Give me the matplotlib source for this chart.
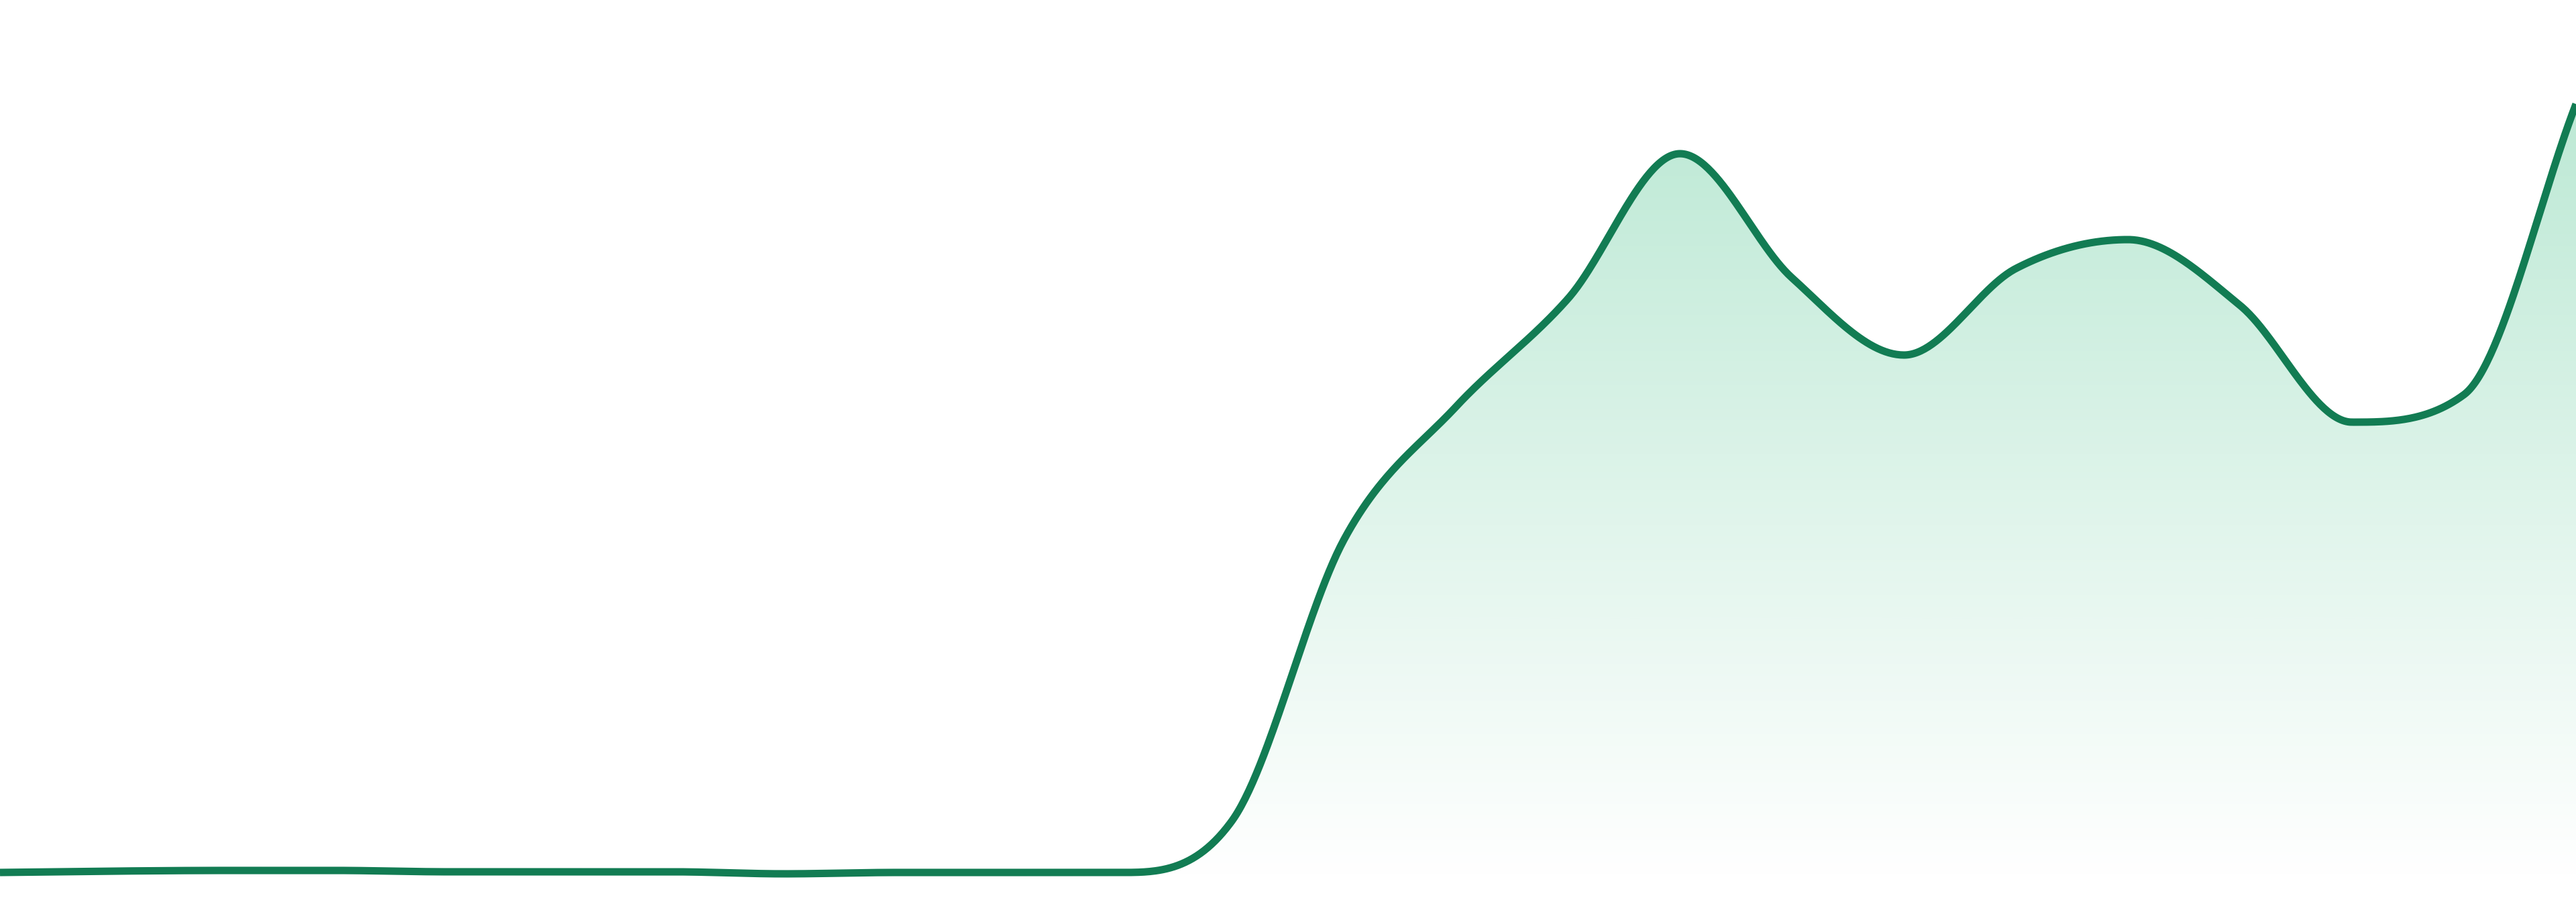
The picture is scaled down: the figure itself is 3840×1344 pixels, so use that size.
import numpy as np
import matplotlib
matplotlib.use("Agg")
import matplotlib.pyplot as plt
from matplotlib.colors import LinearSegmentedColormap
from matplotlib.patches import Polygon

# values (arbitrary units, 0 = baseline)
values = [5, 7, 8, 8, 6, 6, 6, 3, 5, 5, 5,
          82, 501, 699, 860, 1076, 891, 776, 905, 948, 850, 676, 717, 1150]
x = np.arange(len(values))

line_color = "#127c53"
fill_top = "#bde9d5"


def monotone_cubic(xs, ys, n=60):
    # Fritsch-Carlson monotone cubic, endpoint tangents = secants
    xs = np.asarray(xs, float)
    ys = np.asarray(ys, float)
    h = np.diff(xs)
    d = np.diff(ys) / h
    m = np.empty(len(xs))
    m[0], m[-1] = d[0], d[-1]
    for i in range(1, len(xs) - 1):
        m[i] = 0.0 if d[i - 1] * d[i] <= 0 else (d[i - 1] + d[i]) / 2
    for i in range(len(d)):
        if d[i] == 0:
            m[i] = m[i + 1] = 0.0
            continue
        a, b = m[i] / d[i], m[i + 1] / d[i]
        r = a * a + b * b
        if r > 9:
            tau = 3 / np.sqrt(r)
            m[i] = tau * a * d[i]
            m[i + 1] = tau * b * d[i]
    out_x, out_y = [], []
    for i in range(len(xs) - 1):
        u = np.linspace(0, 1, n, endpoint=(i == len(xs) - 2))
        h00 = 2 * u**3 - 3 * u**2 + 1
        h10 = u**3 - 2 * u**2 + u
        h01 = -2 * u**3 + 3 * u**2
        h11 = u**3 - u**2
        out_x.append(xs[i] + u * h[i])
        out_y.append(h00 * ys[i] + h10 * h[i] * m[i] + h01 * ys[i + 1] + h11 * h[i] * m[i + 1])
    return np.concatenate(out_x), np.concatenate(out_y)


sx, sy = monotone_cubic(x, values)

fig = plt.figure(figsize=(38.4, 13.44), dpi=100)
ax = fig.add_axes([0, 0, 1, 1])
ax.axis("off")

# gradient fill under the curve
cmap = LinearSegmentedColormap.from_list("g", ["#ffffff", fill_top])
grad = np.linspace(0, 1, 512).reshape(-1, 1)
im = ax.imshow(grad, extent=[x[0], x[-1], 0, max(values)], origin="lower",
               aspect="auto", cmap=cmap, zorder=1)
verts = np.column_stack([np.r_[sx, sx[-1], sx[0]], np.r_[sy, 0, 0]])
clip = Polygon(verts, closed=True, transform=ax.transData, facecolor="none", edgecolor="none")
ax.add_patch(clip)
im.set_clip_path(clip)

ax.plot(sx, sy, color=line_color, lw=8, solid_capstyle="butt", zorder=2)

ax.set_xlim(0, len(values) - 1)
ax.set_ylim(-39, 1305)

fig.savefig("out.png", dpi=100)
